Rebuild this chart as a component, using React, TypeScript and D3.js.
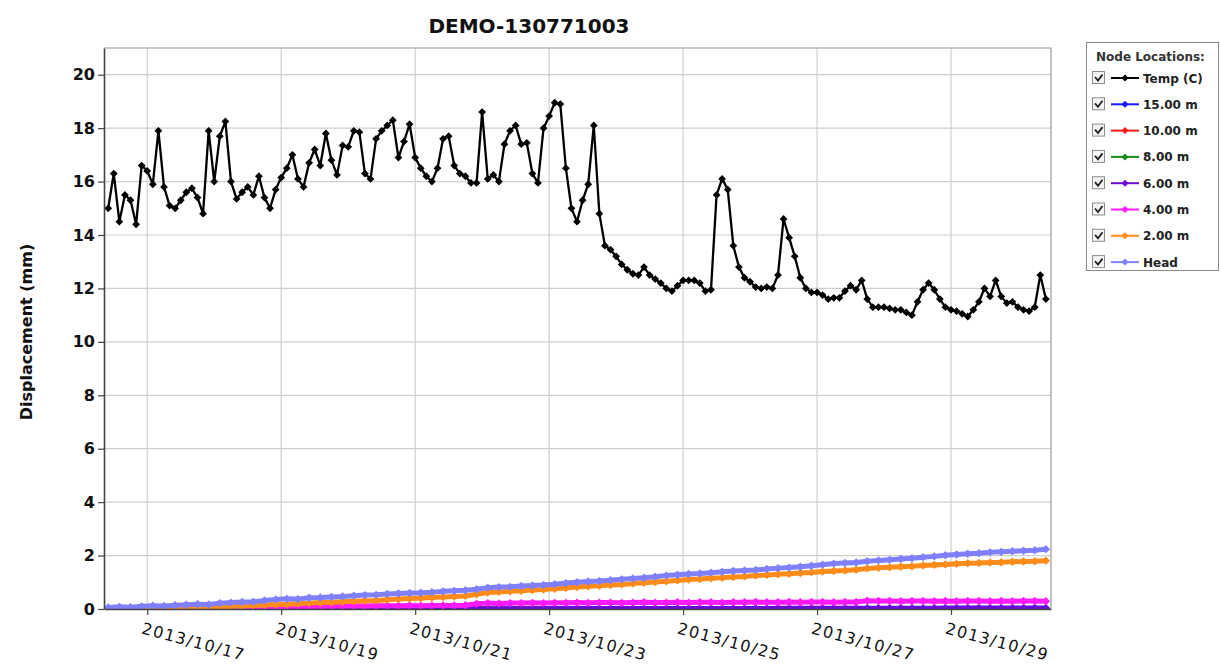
import React, { useEffect, useRef } from 'react';
import * as d3 from 'd3';

const chartTitle = 'DEMO-130771003';
const yAxisTitle = 'Displacement (mm)';
const legendTitle = 'Node Locations:';

const seriesNames = ['Temp (C)', '15.00 m', '10.00 m', '8.00 m', '6.00 m', '4.00 m', '2.00 m', 'Head'];
const seriesColors = ['#000000', '#1a1aff', '#ff1a1a', '#1a8c1a', '#6a0ad8', '#ff1aff', '#ff8c1a', '#8080ff'];

const yTicks = [0, 2, 4, 6, 8, 10, 12, 14, 16, 18, 20];
const xTickLabels = ['2013/10/17', '2013/10/19', '2013/10/21', '2013/10/23', '2013/10/25', '2013/10/27', '2013/10/29'];

// temperature node, read every 2 hours from 2013-10-16 10:00
const tempStart = Date.UTC(2013, 9, 16, 10);
const tempStepHours = 2;
const tempValues = [
  15.0, 16.3, 14.5, 15.5, 15.3, 14.4, 16.6, 16.4, 15.9, 17.9,
  15.8, 15.1, 15.0, 15.3, 15.6, 15.75, 15.4, 14.8, 17.9, 16.0,
  17.7, 18.25, 16.0, 15.35, 15.6, 15.8, 15.5, 16.2, 15.4, 15.0,
  15.7, 16.15, 16.5, 17.0, 16.1, 15.8, 16.7, 17.2, 16.6, 17.8,
  16.8, 16.25, 17.35, 17.3, 17.9, 17.85, 16.3, 16.1, 17.6, 17.9,
  18.1, 18.3, 16.9, 17.5, 18.15, 16.9, 16.5, 16.2, 16.0, 16.5,
  17.6, 17.7, 16.6, 16.3, 16.2, 15.95, 15.95, 18.6, 16.1, 16.25,
  16.0, 17.4, 17.9, 18.1, 17.4, 17.45, 16.3, 15.95, 18.0, 18.45,
  18.95, 18.9, 16.5, 15.0, 14.5, 15.3, 15.9, 18.1, 14.8, 13.6,
  13.45, 13.2, 12.9, 12.7, 12.55, 12.5, 12.8, 12.5, 12.35, 12.2,
  12.0, 11.9, 12.1, 12.3, 12.3, 12.3, 12.2, 11.9, 11.95, 15.5,
  16.1, 15.7, 13.6, 12.8, 12.4, 12.25, 12.05, 12.0, 12.05, 12.0,
  12.5, 14.6, 13.9, 13.2, 12.4, 12.0, 11.85, 11.85, 11.75, 11.6,
  11.65, 11.65, 11.9, 12.1, 11.95, 12.3, 11.6, 11.3, 11.3, 11.3,
  11.25, 11.2, 11.2, 11.1, 11.0, 11.5, 11.95, 12.2, 11.95, 11.6,
  11.3, 11.2, 11.15, 11.05, 10.95, 11.2, 11.5, 12.0, 11.7, 12.3,
  11.7, 11.45, 11.5, 11.3, 11.2, 11.15, 11.3, 12.5, 11.6,
];

// displacement nodes, read every 4 hours from the same start
const nodeStart = Date.UTC(2013, 9, 16, 10);
const nodeStepHours = 4;
const node15m = [
  0, 0, 0, 0, 0, 0, 0, 0, 0, 0, 0, 0, 0, 0, 0, 0, 0, 0, 0, 0, 0, 0, 0, 0, 0, 0, 0, 0, 0, 0,
  0, 0, 0, 0, 0, 0, 0, 0, 0, 0, 0, 0, 0, 0, 0, 0, 0, 0, 0, 0, 0, 0, 0, 0, 0, 0, 0, 0, 0, 0,
  0, 0, 0, 0, 0, 0, 0, 0, 0, 0, 0, 0, 0, 0, 0, 0, 0, 0, 0, 0, 0, 0, 0, 0, 0,
];
const node10m = [
  0, 0, 0, 0, 0, 0, 0, 0, 0, 0, 0, 0, 0, 0, 0, 0, 0, 0, 0, 0, 0, 0, 0, 0, 0, 0, 0, 0, 0, 0,
  0, 0, 0, 0, 0, 0, 0, 0, 0, 0, 0, 0, 0, 0, 0, 0, 0, 0, 0, 0, 0, 0, 0, 0, 0, 0, 0, 0, 0, 0,
  0, 0, 0, 0, 0, 0, 0, 0, 0, 0, 0, 0, 0, 0, 0, 0, 0, 0, 0, 0, 0, 0, 0, 0, 0,
];
const node8m = [
  0, 0, 0, 0, 0, 0, 0, 0, 0, 0, 0, 0, 0, 0, 0, 0, 0, 0, 0, 0, 0, 0, 0, 0, 0, 0, 0, 0, 0, 0,
  0, 0, 0, 0, 0, 0, 0, 0, 0, 0, 0, 0, 0, 0, 0, 0, 0, 0, 0, 0, 0, 0, 0, 0, 0, 0, 0, 0, 0, 0,
  0, 0, 0, 0, 0, 0, 0, 0, 0, 0, 0, 0, 0, 0, 0, 0, 0, 0, 0, 0, 0, 0, 0, 0, 0,
];
const node6m = [
  0, 0, 0, 0, 0, 0, 0, 0, 0, 0, 0, 0, 0, 0, 0, 0, 0, 0, 0, 0,
  0.01, 0.01, 0.01, 0.01, 0.01, 0.01, 0.01, 0.01, 0.01, 0.01, 0.01, 0.01, 0.01, 0.01, 0.01, 0.01, 0.01, 0.01, 0.01, 0.01,
  0.02, 0.02, 0.02, 0.02, 0.02, 0.02, 0.02, 0.02, 0.02, 0.02, 0.02, 0.02, 0.02, 0.02, 0.02, 0.02, 0.02, 0.02, 0.02, 0.02,
  0.03, 0.03, 0.03, 0.03, 0.03, 0.03, 0.03, 0.03, 0.03, 0.03, 0.03, 0.03, 0.03, 0.03, 0.03,
  0.04, 0.04, 0.04, 0.04, 0.04, 0.04, 0.04, 0.04, 0.04, 0.04,
];
const node4m = [
  0, 0, 0, 0, 0, 0, 0, 0, 0, 0,
  0.00, 0.02, 0.04, 0.06, 0.08, 0.09, 0.10, 0.10, 0.11, 0.10,
  0.11, 0.11, 0.12, 0.11, 0.12, 0.12, 0.12, 0.13, 0.12, 0.13,
  0.13, 0.13, 0.14, 0.20, 0.22, 0.21, 0.22, 0.22, 0.23, 0.22,
  0.23, 0.23, 0.24, 0.23, 0.24, 0.24, 0.23, 0.24, 0.25, 0.24,
  0.24, 0.25, 0.24, 0.25, 0.25, 0.24, 0.25, 0.25, 0.26, 0.25,
  0.25, 0.26, 0.25, 0.26, 0.26, 0.25, 0.26, 0.26, 0.31, 0.30,
  0.30, 0.29, 0.30, 0.30, 0.29, 0.30, 0.29, 0.30, 0.30, 0.29,
  0.30, 0.29, 0.30, 0.30, 0.29,
];
const node2m = [
  0.00, 0.00, 0.00, 0.00, 0.00, 0.01, 0.02, 0.04, 0.05, 0.06,
  0.08, 0.10, 0.11, 0.13, 0.15, 0.17, 0.18, 0.20, 0.22, 0.24,
  0.25, 0.27, 0.29, 0.31, 0.32, 0.35, 0.37, 0.39, 0.41, 0.43,
  0.45, 0.47, 0.49, 0.55, 0.62, 0.64, 0.66, 0.68, 0.71, 0.73,
  0.76, 0.79, 0.82, 0.85, 0.87, 0.90, 0.92, 0.95, 0.98, 1.01,
  1.04, 1.07, 1.10, 1.12, 1.15, 1.17, 1.20, 1.22, 1.25, 1.27,
  1.30, 1.32, 1.35, 1.37, 1.40, 1.42, 1.44, 1.47, 1.52, 1.54,
  1.56, 1.58, 1.60, 1.63, 1.65, 1.67, 1.69, 1.71, 1.72, 1.74,
  1.75, 1.77, 1.78, 1.79, 1.81,
];
const headValues = [
  0.06, 0.08, 0.07, 0.10, 0.12, 0.11, 0.14, 0.16, 0.18, 0.17,
  0.22, 0.24, 0.26, 0.27, 0.32, 0.36, 0.38, 0.37, 0.42, 0.43,
  0.45, 0.47, 0.50, 0.52, 0.53, 0.56, 0.58, 0.60, 0.61, 0.63,
  0.66, 0.68, 0.70, 0.74, 0.80, 0.82, 0.83, 0.86, 0.88, 0.90,
  0.93, 0.97, 1.00, 1.03, 1.05, 1.08, 1.11, 1.14, 1.17, 1.21,
  1.25, 1.28, 1.31, 1.33, 1.36, 1.39, 1.42, 1.44, 1.46, 1.50,
  1.53, 1.55, 1.58, 1.62, 1.66, 1.70, 1.72, 1.74, 1.79, 1.82,
  1.84, 1.87, 1.90, 1.94, 1.97, 2.01, 2.04, 2.07, 2.09, 2.12,
  2.14, 2.16, 2.18, 2.20, 2.24,
];

const HOUR = 3600 * 1000;

const App = () => {
  const svgRef = useRef(null);

  useEffect(() => {
    const svg = d3.select(svgRef.current);
    svg.selectAll('*').remove();

    const font = '"DejaVu Sans", Verdana, sans-serif';
    const left = 104, right = 1051, top = 48, bottom = 609;

    const x = d3.scaleUtc()
      .domain([new Date(Date.UTC(2013, 9, 16, 8, 30)), new Date(Date.UTC(2013, 9, 30, 11, 50))])
      .range([left, right]);
    const y = d3.scaleLinear().domain([0, 21]).range([bottom, top]);

    const parseDay = d3.utcParse('%Y/%m/%d');
    const xTicks = xTickLabels.map((s) => parseDay(s));

    // gridlines
    const grid = svg.append('g');
    grid.selectAll('line.h').data(yTicks.filter((v) => v > 0)).join('line')
      .attr('x1', left).attr('x2', right)
      .attr('y1', (d) => y(d)).attr('y2', (d) => y(d))
      .attr('stroke', '#cfcfcf').attr('stroke-width', 1.2);
    grid.selectAll('line.v').data(xTicks).join('line')
      .attr('x1', (d) => x(d)).attr('x2', (d) => x(d))
      .attr('y1', top).attr('y2', bottom)
      .attr('stroke', '#cfcfcf').attr('stroke-width', 1.2);

    // plot frame (top / right)
    svg.append('path')
      .attr('d', `M${left},${top}H${right}V${bottom}`)
      .attr('fill', 'none').attr('stroke', '#9a9a9a').attr('stroke-width', 1.2);

    // series
    svg.append('defs').append('clipPath').attr('id', 'plotClip')
      .append('rect').attr('x', left).attr('y', top).attr('width', right - left).attr('height', bottom - top);

    const makeSeries = (start, step, values) =>
      values.map((v, i) => ({ t: new Date(start + i * step * HOUR), v }));

    const series = [
      makeSeries(tempStart, tempStepHours, tempValues),
      makeSeries(nodeStart, nodeStepHours, node15m),
      makeSeries(nodeStart, nodeStepHours, node10m),
      makeSeries(nodeStart, nodeStepHours, node8m),
      makeSeries(nodeStart, nodeStepHours, node6m),
      makeSeries(nodeStart, nodeStepHours, node4m),
      makeSeries(nodeStart, nodeStepHours, node2m),
      makeSeries(nodeStart, nodeStepHours, headValues),
    ];

    const line = d3.line().x((d) => x(d.t)).y((d) => y(d.v));
    const diamond = (r) => `M0,${-r}L${r},0L0,${r}L${-r},0Z`;

    const plot = svg.append('g').attr('clip-path', 'url(#plotClip)');
    series.forEach((data, si) => {
      const isTemp = si === 0;
      const g = plot.append('g');
      g.append('path')
        .datum(data)
        .attr('d', line)
        .attr('fill', 'none')
        .attr('stroke', seriesColors[si])
        .attr('stroke-width', isTemp ? 2.3 : 5)
        .attr('stroke-linejoin', 'round');
      g.selectAll('path.m').data(data).join('path')
        .attr('class', 'm')
        .attr('d', diamond(isTemp ? 3.9 : 4.2))
        .attr('transform', (d) => `translate(${x(d.t)},${y(d.v)})`)
        .attr('fill', seriesColors[si]);
    });

    // y axis
    const yAxis = svg.append('g')
      .attr('transform', `translate(${left},0)`)
      .call(d3.axisLeft(y).tickValues(yTicks).tickSizeInner(6).tickSizeOuter(0).tickPadding(3));
    yAxis.select('.domain').attr('stroke', '#444').attr('stroke-width', 1.6);
    yAxis.selectAll('.tick line').attr('stroke', '#444').attr('stroke-width', 1.2);
    yAxis.selectAll('.tick text')
      .attr('font-family', font).attr('font-size', 16).attr('font-weight', 'bold').attr('fill', '#111');

    // x axis
    const fmt = d3.utcFormat('%Y/%m/%d');
    const xAxis = svg.append('g')
      .attr('transform', `translate(0,${bottom})`)
      .call(d3.axisBottom(x).tickValues(xTicks).tickFormat(fmt).tickSizeInner(6).tickSizeOuter(0));
    xAxis.select('.domain').attr('stroke', '#444').attr('stroke-width', 1.6);
    xAxis.selectAll('.tick line').attr('stroke', '#444').attr('stroke-width', 1.2);
    xAxis.selectAll('.tick text')
      .attr('font-family', font).attr('font-size', 16).attr('fill', '#111')
      .attr('letter-spacing', 1.4)
      .attr('text-anchor', 'start')
      .attr('x', 0).attr('y', 0).attr('dy', '0.72em')
      .attr('transform', 'translate(-4,13) rotate(15)');

    // title
    svg.append('text')
      .attr('x', 529).attr('y', 33)
      .attr('text-anchor', 'middle')
      .attr('font-family', font).attr('font-size', 20).attr('font-weight', 'bold')
      .attr('fill', '#111')
      .text(chartTitle);

    // y title
    svg.append('text')
      .attr('transform', 'translate(32,332) rotate(-90)')
      .attr('text-anchor', 'middle')
      .attr('font-family', font).attr('font-size', 16).attr('font-weight', 'bold')
      .attr('fill', '#111')
      .text(yAxisTitle);

    // legend
    const lg = svg.append('g');
    lg.append('rect')
      .attr('x', 1086.5).attr('y', 42.5).attr('width', 132).attr('height', 228)
      .attr('fill', '#fff').attr('stroke', '#8a8a8a');
    lg.append('text')
      .attr('x', 1096).attr('y', 61)
      .attr('font-family', font).attr('font-size', 12).attr('font-weight', 'bold')
      .attr('fill', '#333')
      .text(legendTitle);
    const rows = lg.selectAll('g.row').data(seriesNames).join('g')
      .attr('class', 'row')
      .attr('transform', (d, i) => `translate(0,${78 + i * 26.3})`);
    rows.append('rect')
      .attr('x', 1092.5).attr('y', -6.5).attr('width', 12).attr('height', 12)
      .attr('fill', '#f4f4f4').attr('stroke', '#8c8c8c');
    rows.append('path')
      .attr('d', 'M1095,-1L1098,2.5L1102.5,-3.5')
      .attr('fill', 'none').attr('stroke', '#222').attr('stroke-width', 1.8);
    rows.append('line')
      .attr('x1', 1111).attr('x2', 1139).attr('y1', 0).attr('y2', 0)
      .attr('stroke', (d, i) => seriesColors[i]).attr('stroke-width', 2);
    rows.append('path')
      .attr('d', diamond(3.5))
      .attr('transform', 'translate(1125,0)')
      .attr('fill', (d, i) => seriesColors[i]);
    rows.append('text')
      .attr('x', 1143).attr('y', 4.5)
      .attr('font-family', font).attr('font-size', 12).attr('font-weight', 'bold')
      .attr('fill', '#222')
      .text((d) => d);
  }, []);

  return (
    <svg
      ref={svgRef}
      width={1220}
      height={669}
      style={{ position: 'absolute', left: 0, top: 0, background: '#fff' }}
    />
  );
};

export default App;
